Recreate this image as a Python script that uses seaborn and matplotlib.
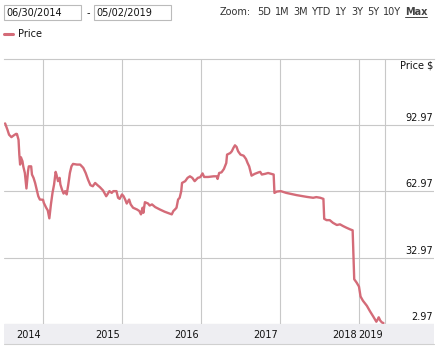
import matplotlib
matplotlib.use("Agg")
import matplotlib.pyplot as plt
import matplotlib.transforms as mtransforms
from matplotlib.patches import Rectangle
from matplotlib.lines import Line2D
import pandas as pd
import seaborn as sns

# price series (x in fractional years of the chart axis)
years = [2013.52, 2013.55, 2013.57, 2013.60, 2013.63, 2013.66, 2013.67, 2013.69, 2013.70, 2013.71,
         2013.72, 2013.74, 2013.75, 2013.77, 2013.78, 2013.79, 2013.81, 2013.82, 2013.85, 2013.86,
         2013.88, 2013.90, 2013.92, 2013.94, 2013.96, 2014.00, 2014.01, 2014.04, 2014.06, 2014.08,
         2014.10, 2014.12, 2014.14, 2014.16, 2014.17, 2014.19, 2014.21, 2014.22, 2014.24, 2014.26,
         2014.28, 2014.30, 2014.32, 2014.34, 2014.36, 2014.38, 2014.43, 2014.47, 2014.51, 2014.54,
         2014.57, 2014.60, 2014.63, 2014.66, 2014.69, 2014.72, 2014.76, 2014.80, 2014.82, 2014.84,
         2014.87, 2014.89, 2014.93, 2014.95, 2014.97, 2015.00, 2015.02, 2015.04, 2015.06, 2015.09,
         2015.11, 2015.14, 2015.19, 2015.22, 2015.24, 2015.26, 2015.27, 2015.29, 2015.33, 2015.35,
         2015.38, 2015.42, 2015.48, 2015.54, 2015.61, 2015.63, 2015.65, 2015.67, 2015.69, 2015.71,
         2015.73, 2015.75, 2015.76, 2015.80, 2015.83, 2015.86, 2015.89, 2015.92, 2015.96, 2015.99,
         2016.02, 2016.04, 2016.09, 2016.16, 2016.20, 2016.21, 2016.23, 2016.26, 2016.29, 2016.32,
         2016.33, 2016.37, 2016.39, 2016.41, 2016.43, 2016.45, 2016.47, 2016.50, 2016.54, 2016.57,
         2016.59, 2016.61, 2016.64, 2016.68, 2016.73, 2016.75, 2016.77, 2016.81, 2016.85, 2016.89,
         2016.92, 2016.93, 2016.96, 2017.01, 2017.08, 2017.21, 2017.34, 2017.42, 2017.46, 2017.51,
         2017.55, 2017.56, 2017.59, 2017.63, 2017.67, 2017.72, 2017.76, 2017.80, 2017.84, 2017.89,
         2017.92, 2017.94, 2017.97, 2018.00, 2018.02, 2018.05, 2018.10, 2018.14, 2018.18, 2018.22,
         2018.24, 2018.25, 2018.27, 2018.29, 2018.31]
price = [93.6, 90.7, 88.5, 87.4, 88.2, 88.9, 88.8, 86.2, 79.5, 75.0,
         78.3, 76.5, 74.2, 71.2, 67.5, 64.2, 71.9, 74.2, 74.2, 70.5,
         69.0, 66.7, 63.7, 60.7, 59.2, 59.1, 57.7, 55.5, 54.3, 50.7,
         57.0, 62.2, 66.0, 71.7, 70.5, 67.5, 69.0, 66.0, 63.7, 61.9,
         63.0, 61.5, 66.0, 71.2, 74.2, 75.3, 75.0, 75.0, 73.5, 71.2,
         68.2, 65.7, 65.2, 66.7, 65.7, 64.8, 63.3, 60.7, 61.8, 63.0,
         62.2, 63.0, 63.0, 60.0, 59.5, 61.5, 60.7, 59.2, 57.4, 59.2,
         57.0, 55.5, 54.7, 54.0, 52.5, 55.5, 53.2, 58.0, 57.4, 56.5,
         57.0, 55.8, 54.7, 53.7, 52.8, 52.5, 54.0, 54.7, 55.5, 59.2,
         60.0, 63.0, 66.7, 67.5, 69.0, 69.7, 69.0, 67.5, 69.0, 69.3,
         71.0, 69.4, 69.4, 69.7, 69.7, 68.5, 71.2, 71.5, 73.0, 75.7,
         79.5, 80.2, 81.0, 82.5, 83.7, 83.0, 81.0, 79.5, 79.0, 77.5,
         75.7, 74.2, 70.0, 70.8, 71.5, 71.7, 70.5, 70.8, 71.2, 70.8,
         70.5, 62.2, 62.8, 63.0, 62.2, 61.2, 60.4, 60.0, 60.3, 60.0,
         59.5, 50.5, 49.9, 49.9, 48.7, 47.7, 48.0, 47.2, 46.5, 45.7,
         45.3, 23.2, 21.7, 19.9, 15.4, 13.5, 11.2, 8.7, 6.4, 4.0,
         5.2, 6.0, 4.5, 3.7, 3.4]

y_ticks = [2.97, 32.97, 62.97, 92.97]
x_ticks = [2014, 2015, 2016, 2017, 2018, 2018.33]
x_labels = ["2014", "2015", "2016", "2017", "2018", "2019"]
zoom_buttons = ["Zoom:", "5D", "1M", "3M", "YTD", "1Y", "3Y", "5Y", "10Y"]
zoom_px = [220, 257, 275, 293, 311, 335, 351, 367, 383]
date_from, date_to = "06/30/2014", "05/02/2019"

df = pd.DataFrame({"year": years, "price": price})

sns.set_style("white")
plt.rcParams["font.family"] = ["DejaVu Sans"]

W, H = 442, 355
fig = plt.figure(figsize=(W / 100, H / 100), dpi=100)
ax = fig.add_axes([4 / W, 1 - 324 / H, 430 / W, 265 / H])

grid_c = "#c8c8c8"
line_c = "#d46b78"

sns.lineplot(data=df, x="year", y="price", ax=ax, color=line_c, linewidth=1.7, zorder=3)

ax.set_xlim(2013.506, 2018.95)
ax.set_ylim(2.97, 122.7)
ax.set_xlabel("")
ax.set_ylabel("")

ax.set_yticks(y_ticks)
ax.set_yticklabels([])
ax.set_xticks(x_ticks)
ax.set_xticklabels(x_labels, fontsize=7, color="#111111")
ax.tick_params(axis="both", length=0)
ax.tick_params(axis="x", pad=4.5)
ax.grid(True, color=grid_c, linewidth=0.8)

# x labels sit a bit to the left of their grid lines
shift = mtransforms.ScaledTranslation(-14 / 100, 0, fig.dpi_scale_trans)
for lab in ax.get_xticklabels():
    lab.set_transform(lab.get_transform() + shift)

for s in ["left", "right", "bottom"]:
    ax.spines[s].set_visible(False)
ax.spines["top"].set_color(grid_c)
ax.spines["top"].set_linewidth(0.8)

# grey band behind the year labels
band_h = 20 / 265
ax.add_patch(Rectangle((0, -band_h), 1, band_h, transform=ax.transAxes,
                       facecolor="#eeeef2", edgecolor="none", clip_on=False, zorder=0))
ax.add_line(Line2D([0, 1], [-band_h, -band_h], transform=ax.transAxes,
                   color="#d0d0d0", linewidth=0.8, clip_on=False))

# price labels on the right, above their grid lines
lab_tr = mtransforms.blended_transform_factory(ax.transAxes, ax.transData)
lab_tr = lab_tr + mtransforms.ScaledTranslation(-1 / 100, 2 / 100, fig.dpi_scale_trans)
for v in y_ticks:
    ax.text(1, v, f"{v:.2f}", transform=lab_tr, ha="right", va="bottom",
            fontsize=7, color="#111111")
ax.text(1 - 1 / 430, 1 - 6 / 265, "Price $", transform=ax.transAxes, ha="right", va="center",
        fontsize=7, color="#111111")


def fx(px):
    return px / W


def fy(py):
    return 1 - py / H


# date range boxes
for x0, txt in [(4, date_from), (94, date_to)]:
    fig.patches.append(Rectangle((fx(x0), fy(20)), 77 / W, 15 / H, transform=fig.transFigure,
                                 facecolor="white", edgecolor="#bbbbbb", linewidth=0.8))
    fig.text(fx(x0 + 2), fy(13), txt, fontsize=7, color="#111111", va="center")
fig.text(fx(88), fy(13), "-", fontsize=7, color="#111111", va="center", ha="center")

# zoom buttons
for px, txt in zip(zoom_px, zoom_buttons):
    fig.text(fx(px), fy(12), txt, fontsize=7, color="#333333", va="center")
fig.text(fx(405), fy(12), "Max", fontsize=7, color="#444444", va="center",
         fontweight="bold")
fig.add_artist(Line2D([fx(405), fx(427)], [fy(17), fy(17)], transform=fig.transFigure,
                      color="#444444", linewidth=0.7))

# legend
fig.add_artist(Line2D([fx(4), fx(13)], [fy(34), fy(34)], transform=fig.transFigure,
                      color=line_c, linewidth=2.2))
fig.text(fx(18), fy(34), "Price", fontsize=7, color="#111111", va="center")

fig.savefig("out.png", dpi=100)
